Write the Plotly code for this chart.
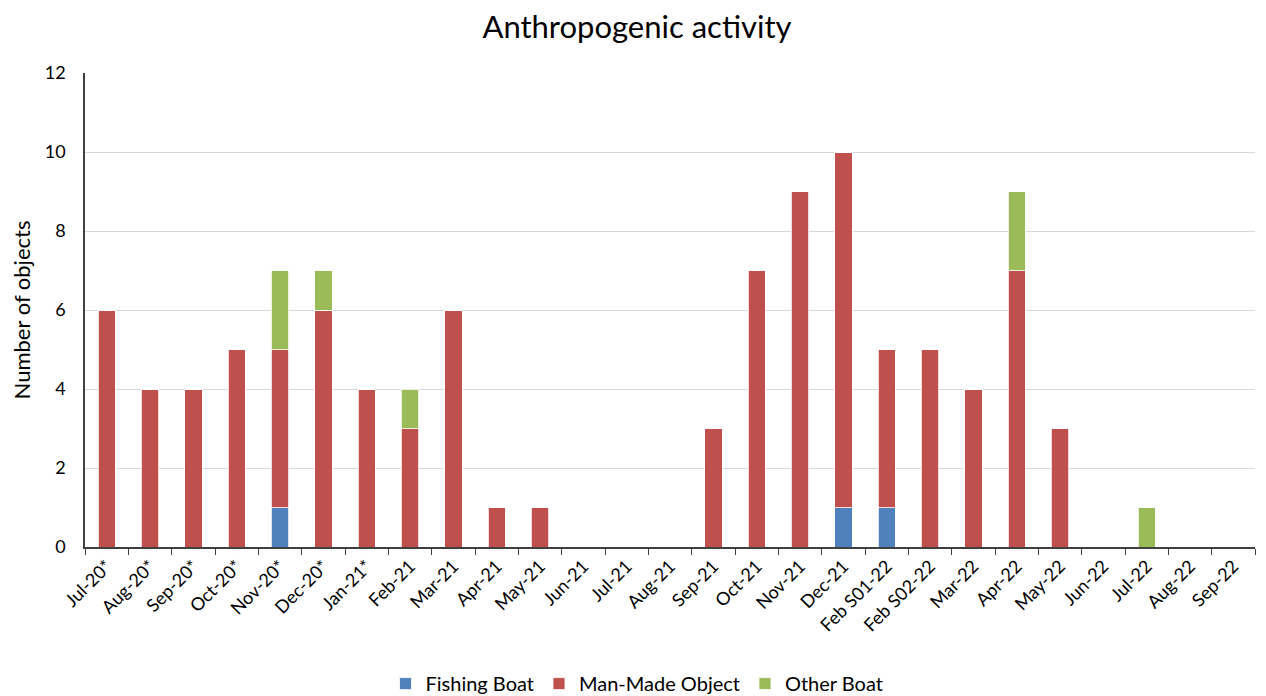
import plotly.graph_objects as go

categories = ["Jul-20*", "Aug-20*", "Sep-20*", "Oct-20*", "Nov-20*", "Dec-20*", "Jan-21*",
              "Feb-21", "Mar-21", "Apr-21", "May-21", "Jun-21", "Jul-21", "Aug-21", "Sep-21",
              "Oct-21", "Nov-21", "Dec-21", "Feb S01-22", "Feb S02-22", "Mar-22", "Apr-22",
              "May-22", "Jun-22", "Jul-22", "Aug-22", "Sep-22"]
fishing_boat = [0, 0, 0, 0, 1, 0, 0, 0, 0, 0, 0, 0, 0, 0, 0, 0, 0, 1, 1, 0, 0, 0, 0, 0, 0, 0, 0]
man_made_object = [6, 4, 4, 5, 4, 6, 4, 3, 6, 1, 1, 0, 0, 0, 3, 7, 9, 9, 4, 5, 4, 7, 3, 0, 0, 0, 0]
other_boat = [0, 0, 0, 0, 2, 1, 0, 1, 0, 0, 0, 0, 0, 0, 0, 0, 0, 0, 0, 0, 0, 2, 0, 0, 1, 0, 0]

FONT = "Lato, 'Open Sans', sans-serif"

fig = go.Figure()
for name, vals, color in [("Fishing Boat", fishing_boat, "#4F81BD"),
                          ("Man-Made Object", man_made_object, "#C0504D"),
                          ("Other Boat", other_boat, "#9BBB59")]:
    fig.add_trace(go.Bar(x=categories, y=vals, name=name,
                         marker=dict(color=color, line=dict(color="white", width=0.8))))

fig.update_layout(
    barmode="stack",
    bargap=0.6,
    width=1258, height=688,
    margin=dict(l=77, r=11, t=65, b=149),
    paper_bgcolor="white", plot_bgcolor="white",
    font=dict(family=FONT, color="#000000", size=17),
    title=dict(text="Anthropogenic activity", x=0.5, xanchor="center", y=0.972, yanchor="middle",
               font=dict(size=31, family=FONT)),
    legend=dict(orientation="h", xref="container", yref="container", x=0.5, xanchor="center",
                y=0.018, yanchor="middle",
                font=dict(size=20), traceorder="normal", itemwidth=30),
    xaxis=dict(type="category", tickangle=-45, tickson="boundaries", ticks="outside",
               ticklen=6, tickcolor="#404040", showline=True, linecolor="#404040", linewidth=1.5,
               tickfont=dict(size=18), showgrid=False, automargin=False),
    yaxis=dict(range=[0, 12], dtick=2, showgrid=True, gridcolor="#D9D9D9", gridwidth=1,
               showline=True, linecolor="#404040", linewidth=1.5, ticks="", zeroline=False,
               tickfont=dict(size=18), ticklabelstandoff=14, automargin=False,
               title=dict(text="Number of objects", font=dict(size=22), standoff=12)),
)

fig.write_html("out.html")
